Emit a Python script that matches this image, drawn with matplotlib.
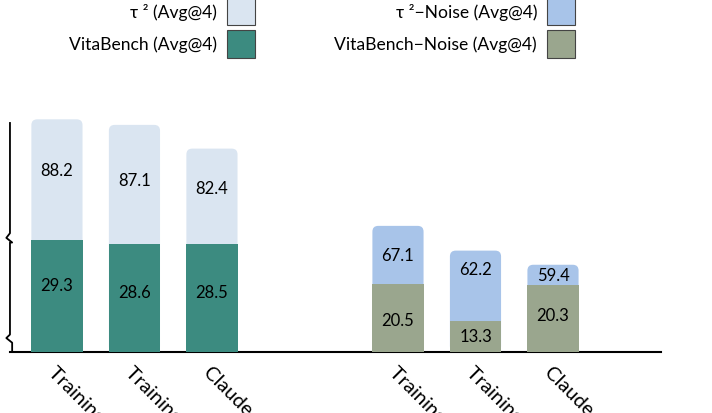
import numpy as np
import matplotlib
matplotlib.use('Agg')
import matplotlib.pyplot as plt
import matplotlib.patches as patches

plt.rcParams['font.family'] = ['Lato', 'DejaVu Sans']

# data
models = ["Training-Free GRPO", "Training-Based RL", "Claude-Sonnet-4"]
tau2 = [88.2, 87.1, 82.4]
vita = [29.3, 28.6, 28.5]
tau2_noise = [67.1, 62.2, 59.4]
vita_noise = [20.5, 13.3, 20.3]

COLOR = {
	'tau2': '#DAE5F1',
	'vita': '#3C8B80',
	'tau2_noise': '#A8C4E9',
	'vita_noise': '#9AA68E',
	'edge': '#444444',
}
OFFSET = 35.0   # broken axis: upper values drawn shifted down by this
GAP = 4.4       # x position of the second group
WIDTH = 0.66
FS = 12
# hand placed label nudges (points, + is up), upper / lower
NUDGE_HI = [[7, 3, 6], [0, 12, 0]]
NUDGE_LO = [[8, 4, 4], [-1, 0, 3]]

fig = plt.figure(figsize=(7.12, 4.14), dpi=100)
ax = fig.add_axes([0.014, 0.1473, 0.914, 0.5628])
ax.set_xlim(-0.606, 7.79)
ax.set_ylim(7.12, 53.26)
y0 = ax.get_ylim()[0]

xs1 = np.arange(len(models))
xs2 = xs1 + GAP

def draw_group(xs, low, high, clow, chigh, nhi, nlo):
	for x, lo, hi, n in zip(xs, low, high, nhi):
		top = hi - OFFSET
		# rounded upper segment drawn full height, lower segment covers it
		box = patches.FancyBboxPatch((x - WIDTH / 2, y0), WIDTH, top - y0,
			boxstyle="round,pad=0,rounding_size=0.075", mutation_aspect=15.3,
			fc=chigh, ec='none', clip_on=False, zorder=2)
		ax.add_patch(box)
		ax.annotate("%.1f" % hi, (x, (lo + top) / 2), xytext=(0, n), textcoords='offset points',
			ha='center', va='center', fontsize=FS, zorder=4)
	ax.bar(xs, [lo - y0 for lo in low], WIDTH, bottom=y0, color=clow, zorder=3, clip_on=False)
	for x, lo, n in zip(xs, low, nlo):
		ax.annotate("%.1f" % lo, (x, (lo + y0) / 2), xytext=(0, n), textcoords='offset points',
			ha='center', va='center', fontsize=FS, zorder=4)

draw_group(xs1, vita, tau2, COLOR['vita'], COLOR['tau2'], NUDGE_HI[0], NUDGE_LO[0])
draw_group(xs2, vita_noise, tau2_noise, COLOR['vita_noise'], COLOR['tau2_noise'], NUDGE_HI[1], NUDGE_LO[1])

ax.set_xticks(list(xs1) + list(xs2))
ax.set_xticklabels(models + models, rotation=-45, ha='left', va='top',
	rotation_mode='anchor', fontsize=14.5)
ax.tick_params(axis='x', length=0, pad=8)
ax.set_yticks([])
for s in ['left', 'top', 'right']:
	ax.spines[s].set_visible(False)
ax.spines['bottom'].set_linewidth(1.5)

# left spine with break marks
dx = 0.0056
sx = [0, 0, -dx, dx * 0.6, 0.0, 0, -dx, dx * 0.6, dx * 0.6, dx * 1.2]
sy = [0.983, 0.51, 0.49, 0.47, 0.47, 0.075, 0.06, 0.04, 0.0, 0.0]
ax.add_line(plt.Line2D(sx, sy, transform=ax.transAxes, color='black', lw=1.3, clip_on=False))

handles = [patches.Patch(fc=COLOR[k], ec=COLOR['edge'], lw=0.8)
	for k in ['tau2', 'vita', 'tau2_noise', 'vita_noise']]
labels = ["τ ² (Avg@4)", "VitaBench (Avg@4)", "τ ²−Noise (Avg@4)", "VitaBench−Noise (Avg@4)"]
fig.legend(handles, labels, loc='center', bbox_to_anchor=(0.452, 0.931), ncol=2,
	frameon=False, markerfirst=False, fontsize=12.6, handlelength=1.6, handleheight=2.08,
	labelspacing=0.25, columnspacing=4.57, handletextpad=0.57, borderpad=0)

plt.savefig("out.png", dpi=100)
